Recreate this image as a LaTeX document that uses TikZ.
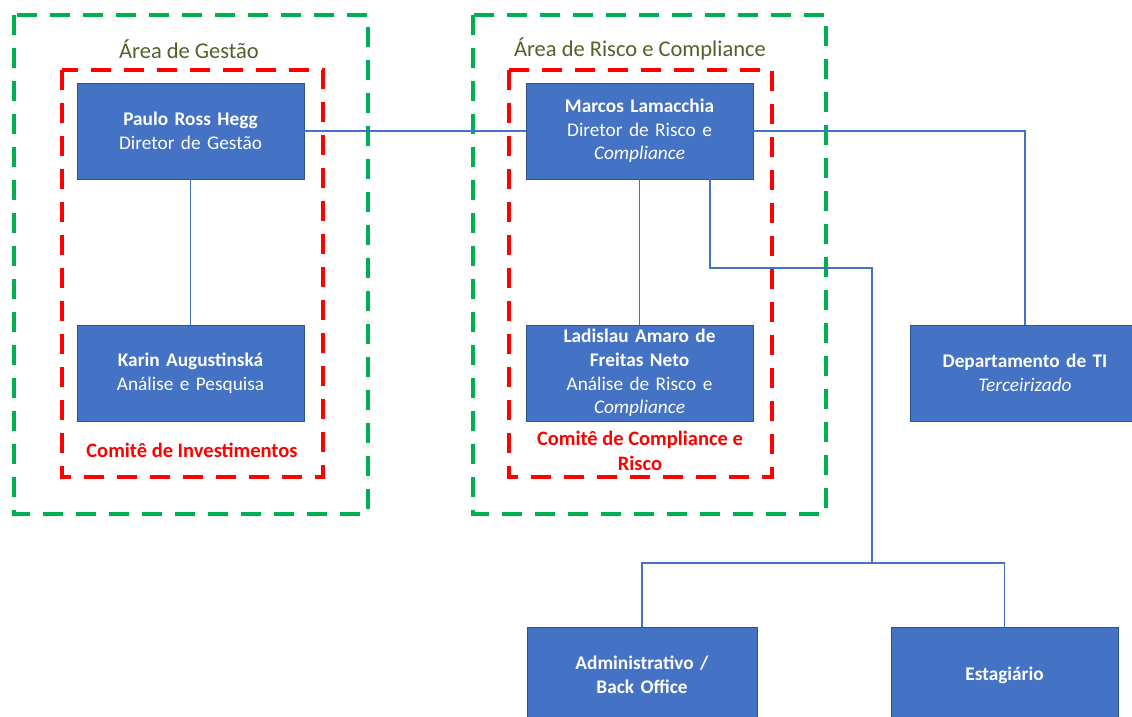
\documentclass[tikz,border=0pt]{standalone}
\usepackage{fontspec}
\setmainfont{Carlito}
\usepackage{tikz}
\usetikzlibrary{positioning, calc}
\definecolor{boxblue}{HTML}{4472C4}
\definecolor{boxedge}{HTML}{2F528F}
\definecolor{areagreen}{HTML}{00B050}
\definecolor{arealabel}{HTML}{4F6228}
\definecolor{comred}{HTML}{FF0000}
\tikzset{
  orgbox/.style={draw=boxedge, line width=0.8pt, fill=boxblue, text=white, minimum width=227pt, minimum height=96pt, text width=220pt, align=center, inner sep=0pt, font=\fontsize{19.3}{23.7}\selectfont},
  wire/.style={draw=boxblue, line width=1.2pt},
  areaframe/.style={draw=areagreen, line width=4pt, dash pattern=on 20pt off 13pt},
  comframe/.style={draw=comred, line width=4pt, dash pattern=on 20pt off 13pt},
  arealbl/.style={text=arealabel, font=\fontsize{22.5}{26}\selectfont},
  comlbl/.style={text=comred, align=center, font=\bfseries\fontsize{20.5}{25}\selectfont}
}

\begin{document}
\begin{tikzpicture}[x=1pt, y=-1pt]
  \useasboundingbox (0,0) rectangle (1132,716);
  % Frames
  \draw[areaframe] (14,15) rectangle (368,514);
  \draw[areaframe] (473,15) rectangle (826,514);
  \draw[comframe] (62,70) rectangle (323,477);
  \draw[comframe] (509,70) rectangle (772,477);
  \node[arealbl] (lblgestao) at (189,49) {Área de Gestão};
  \node[arealbl] (lblrisco) at (640,49) {Área de Risco e Compliance};
  \node[comlbl] (lblinvest) at (192,450) {Comitê de Investimentos};
  \node[comlbl] (lblcompl) at (640,451) {Comitê de Compliance e\\Risco};

  % People
  \node[orgbox] (paulo) at (190.5,131) {\textbf{Paulo Ross Hegg}\\Diretor de Gestão};
  \node[orgbox] (karin) at (190.5,373) {\textbf{Karin Augustinská}\\Análise e Pesquisa};
  \node[orgbox] (marcos) at (639.5,131) {\textbf{Marcos Lamacchia}\\Diretor de Risco e\\\textit{Compliance}};
  \node[orgbox] (ladislau) at (639.5,373) {\textbf{Ladislau Amaro de}\\\textbf{Freitas Neto}\\Análise de Risco e\\\textit{Compliance}};
  \node[orgbox, minimum width=230pt] (ti) at (1025,373) {\textbf{Departamento de TI}\\\textit{Terceirizado}};
  \node[orgbox, minimum width=230pt] (admin) at (642,675) {\textbf{Administrativo /}\\\textbf{Back Office}};
  \node[orgbox] (estag) at (1004.5,675) {\textbf{Estagiário}};

  % Connectors
  \coordinate (tap) at (710,179);
  \coordinate (drop) at (872,268);
  \coordinate (fork) at (872,563);
  \draw[wire] (paulo.east) -- (marcos.west);
  \draw[wire] (paulo.south) -- (karin.north);
  \draw[wire] (marcos.south) -- (ladislau.north);
  \draw[wire] (marcos.east) -| (ti.north);
  \draw[wire] (tap) |- (drop) -- (fork);
  \draw[wire] (admin.north) |- (fork) -| (estag.north);
\end{tikzpicture}
\end{document}
